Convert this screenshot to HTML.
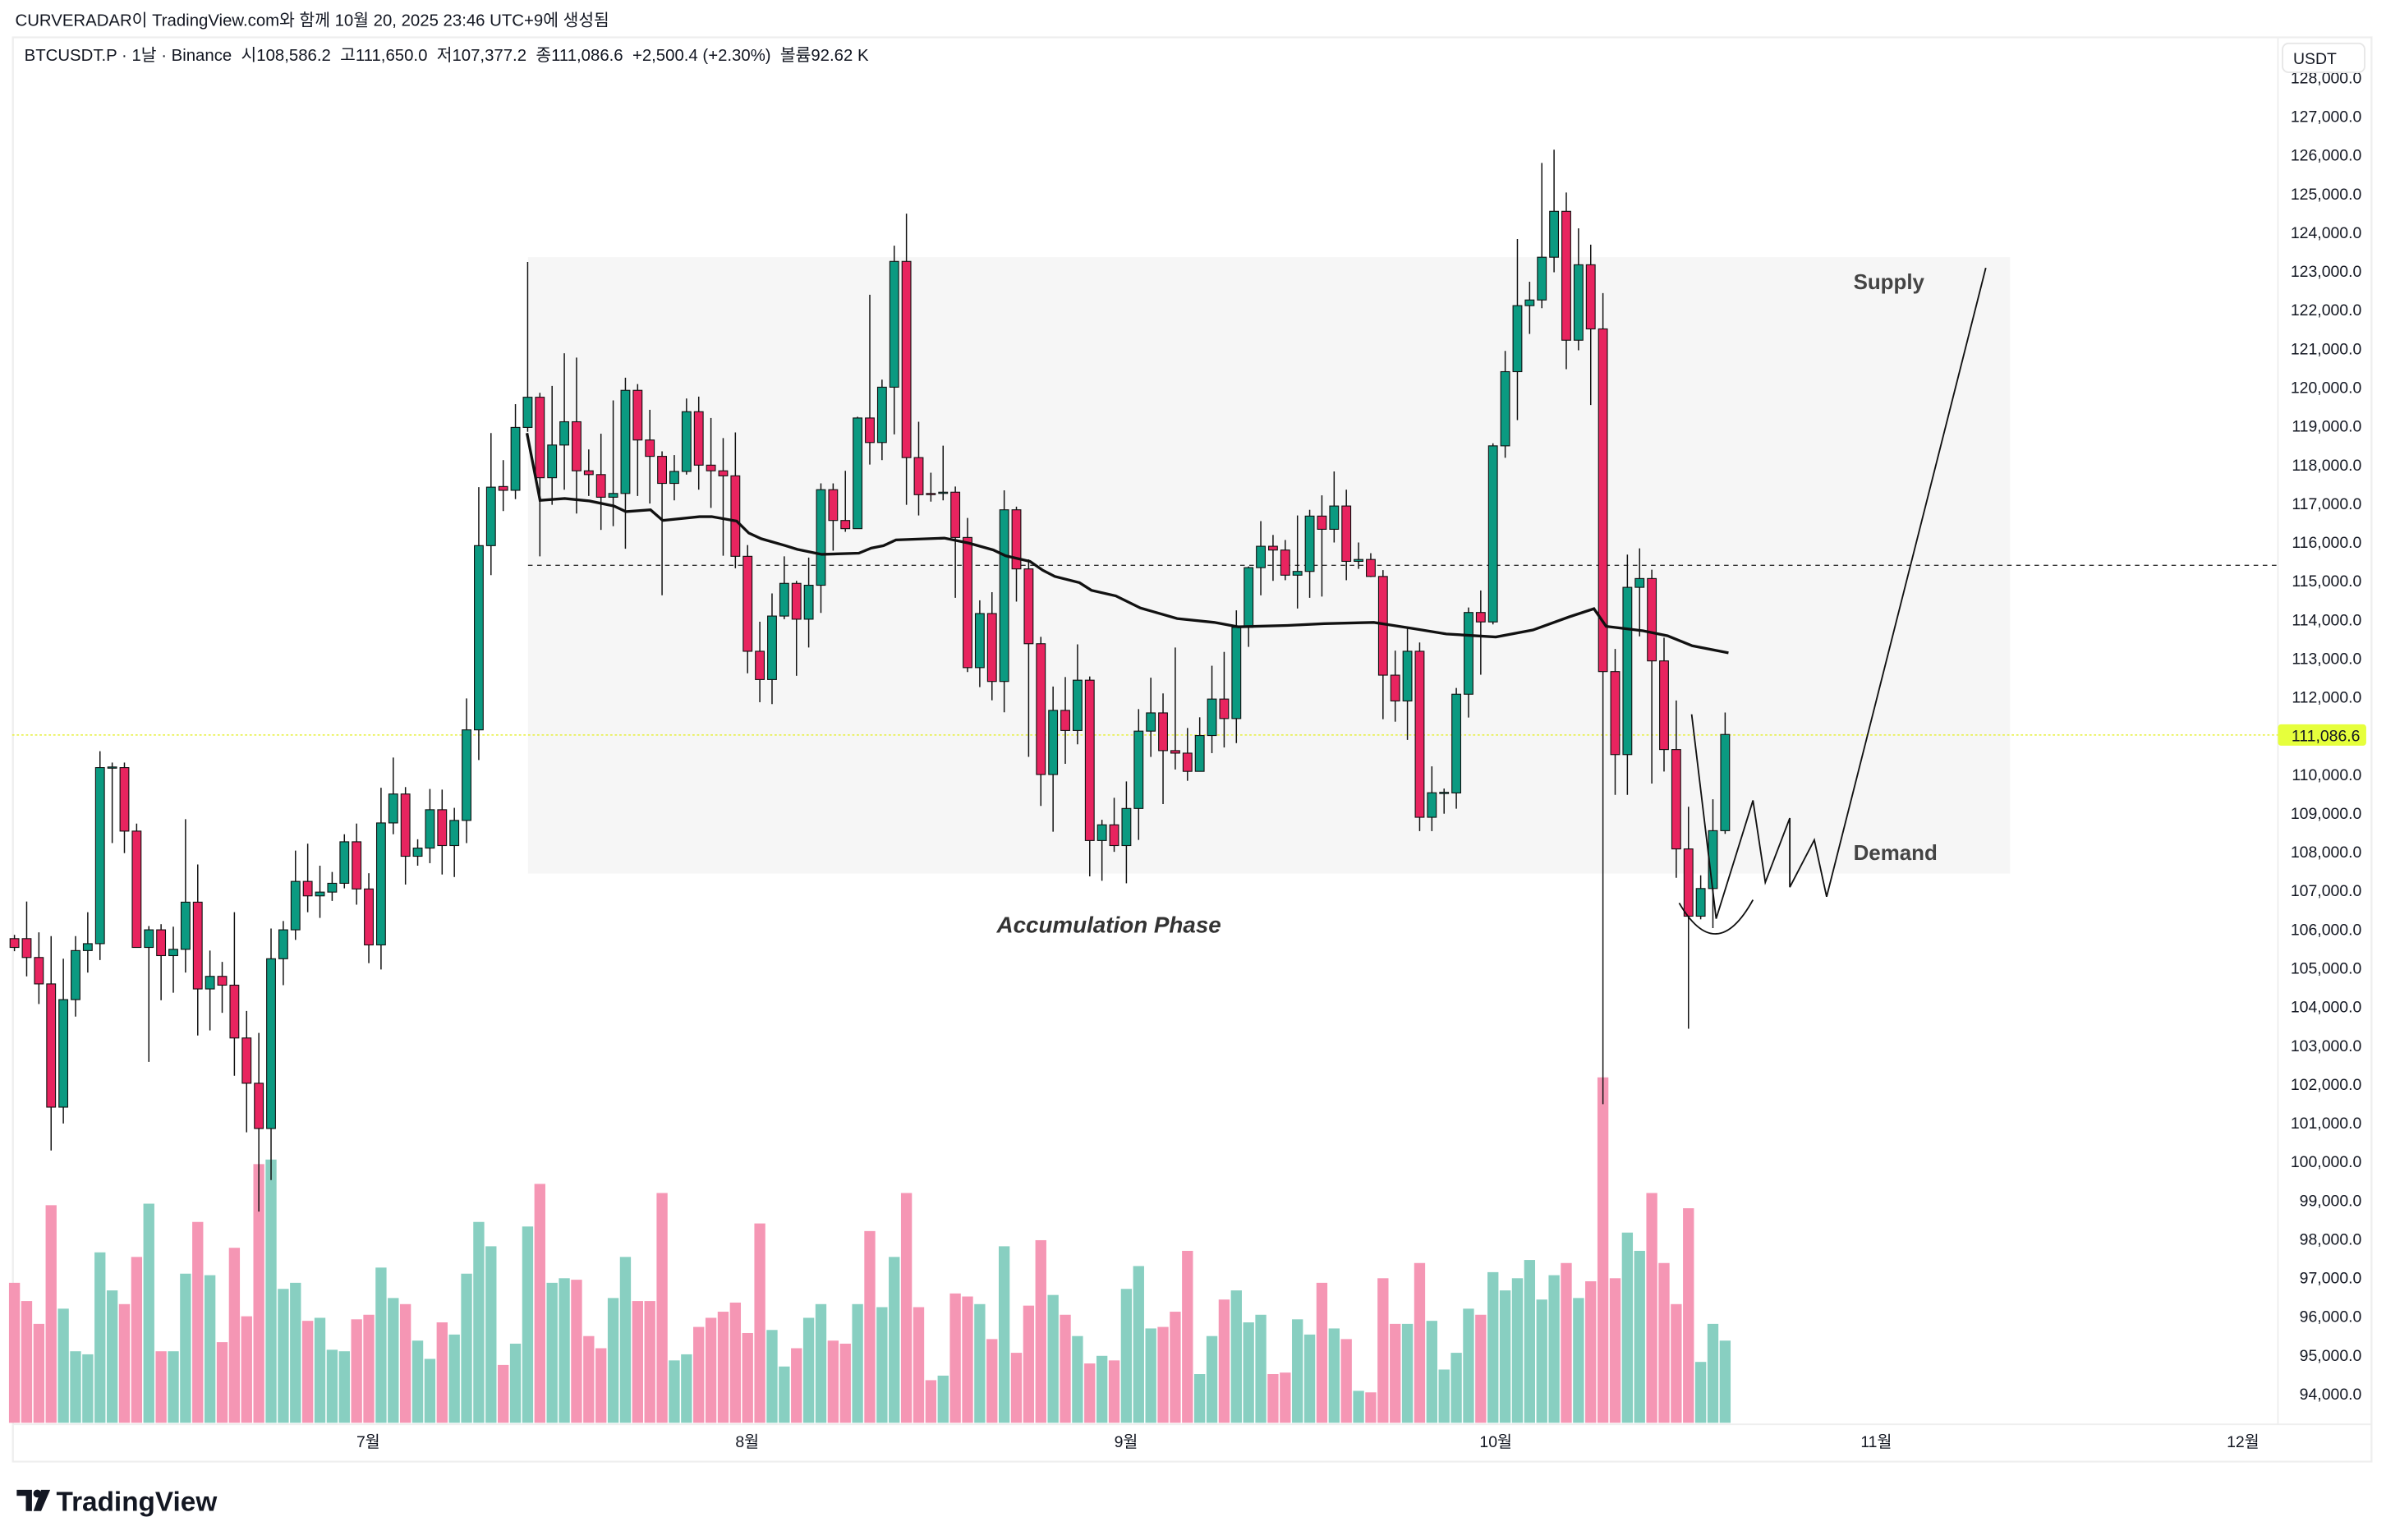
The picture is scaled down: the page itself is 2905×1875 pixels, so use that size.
<!DOCTYPE html>
<html><head><meta charset="utf-8"><style>
html,body{margin:0;padding:0;background:#fff;}
svg{display:block;}
text{font-family:"Liberation Sans","Noto Sans CJK KR",sans-serif;}
</style></head><body>
<svg id="s" width="2905" height="1875" viewBox="0 0 1568 1012" xmlns="http://www.w3.org/2000/svg">
<rect x="0" y="0" width="1568" height="1012" fill="#fff"/>
<text x="10" y="17" font-size="11" fill="#131722">CURVERADAR이 TradingView.com와 함께 10월 20, 2025 23:46 UTC+9에 생성됨</text>
<rect x="8.5" y="24.5" width="1550" height="936" fill="none" stroke="#eeeeee" stroke-width="1.2"/>
<line x1="1497" y1="24" x2="1497" y2="936" stroke="#eeeeee" stroke-width="1"/>
<line x1="8" y1="936" x2="1559" y2="936" stroke="#eeeeee" stroke-width="1"/>
<rect x="347" y="169" width="974" height="405" fill="#f6f6f6"/>
<text x="16" y="40" font-size="11" fill="#131722" xml:space="preserve">BTCUSDT.P · 1날 · Binance  시108,586.2  고111,650.0  저107,377.2  종111,086.6  +2,500.4 (+2.30%)  볼륨92.62 K</text>
<g id="vol"></g>
<line x1="347" y1="371.5" x2="1497" y2="371.5" stroke="#333" stroke-width="0.8" stroke-dasharray="3,3"/>
<line x1="8" y1="483" x2="1497" y2="483" stroke="#e6f03c" stroke-width="0.8" stroke-dasharray="1.5,1.5"/>
<g id="can"></g>
<polyline id="ma" fill="none" stroke="#111" stroke-width="1.8" points=""/>
<polyline fill="none" stroke="#111" stroke-width="1" points="1111.7,469.4 1127.8,603.7 1152,526 1160.1,579.8 1176.2,537.6 1176.2,583 1192.3,552 1200.4,589.3 1305,176"/>
<path d="M1103.5,593.4 Q1127.8,635 1152,591.3" fill="none" stroke="#111" stroke-width="1"/>
<text x="1218" y="190" font-size="14" font-weight="bold" fill="#444">Supply</text>
<text x="1218" y="565" font-size="14" font-weight="bold" fill="#444">Demand</text>
<text x="655" y="613" font-size="15" font-weight="bold" font-style="italic" fill="#333">Accumulation Phase</text>
<g id="ax"></g>
<rect x="1500" y="28.5" width="54" height="19" rx="4" fill="#fff" stroke="#e6e6e6"/>
<text x="1507" y="42" font-size="10.5" fill="#131722">USDT</text>
<rect x="1497" y="476" width="58" height="14" rx="2" fill="#e6ff3c"/>
<text x="1551" y="487" font-size="10.5" fill="#131722" text-anchor="end">111,086.6</text>
<g font-size="10.5" fill="#131722" text-anchor="middle">
<text x="242" y="951">7월</text><text x="491" y="951">8월</text><text x="740" y="951">9월</text><text x="983" y="951">10월</text><text x="1233" y="951">11월</text><text x="1474" y="951">12월</text>
</g>
<g fill="#131722">
<path d="M11,979 h10 v14 h-4 v-10 h-6z"/>
<circle cx="24.5" cy="981.5" r="2.6"/>
<path d="M27,979 h6 l-6,14 h-5z"/>
</g>
<text x="37" y="993" font-size="18" font-weight="bold" fill="#131722">TradingView</text>
</svg>
<script>
var A=[[1166,1180,1160,1186],[1166,1196,1107,1226],[1196,1238,1156,1270],[1238,1434,1162,1503],[1434,1263,1198,1460],[1263,1185,1162,1290],[1185,1174,1124,1220],[1174,894,868,1200],[894,893,886,1014],[894,995,886,1030],[995,1180,983,1180],[1180,1152,1146,1362],[1152,1193,1143,1264],[1193,1183,1147,1252],[1183,1108,976,1220],[1108,1246,1048,1320],[1246,1226,1185,1312],[1226,1240,1203,1284],[1240,1324,1124,1384],[1324,1396,1281,1474],[1396,1468,1316,1600],[1468,1198,1150,1550],[1198,1152,1138,1240],[1152,1075,1026,1168],[1075,1098,1015,1124],[1098,1092,1050,1133],[1092,1078,1060,1106],[1078,1012,1000,1086],[1012,1087,983,1112],[1087,1176,1062,1205],[1176,982,926,1215],[982,936,878,1000],[936,1035,925,1080],[1035,1022,1008,1050],[1022,961,928,1046],[961,1018,929,1064],[1018,978,958,1068],[978,834,784,1014],[834,541,448,882],[541,448,362,588],
[447,453,405,486],[453,353,316,467],[353,305,90,360],[305,433,298,558],[433,381,287,476],[381,344,235,452],[344,422,242,490],[422,428,388,462],[428,464,363,516],[464,458,310,510],[458,294,274,546],[294,373,284,462],[373,399,325,474],[399,442,391,620],[442,423,397,469],[423,328,307,428],[328,413,304,452],[413,422,338,481],[422,430,370,557],[430,558,361,577],[558,709,540,744],[709,754,662,790],[754,653,617,793],[653,601,558,658],[601,658,597,748],[658,604,560,703],[604,452,442,648],[452,501,442,549],[501,514,422,519],[514,338,336,514],[338,377,142,412],[377,289,277,405],[289,89,64,364],[89,401,13,476],[401,460,344,493],[458,459,425,471],[457,456,382,469],[456,528,447,624],[528,735,497,742],
[735,649,628,766],[649,757,615,787],[757,484,453,806],[484,578,479,630],[578,697,563,877],[697,905,686,955],[905,803,765,996],[803,835,750,888],[835,755,698,857],[755,1010,749,1067],[1010,985,977,1074],[985,1018,942,1028],[1018,959,916,1078],[959,836,801,1009],[836,807,751,877],[807,867,776,952],[867,871,703,897],[871,900,831,915],[900,843,814,900],[843,785,732,871],[785,816,710,862],[816,671,644,855],[671,576,574,702],[576,542,502,620],[542,548,524,597],[548,588,532,596],[588,582,493,641],[582,494,484,624],[494,515,461,622],[515,478,423,536],[478,566,452,596],[566,563,536,578],[563,590,553,591],[590,747,580,817],[747,788,708,821],[788,709,673,850],[709,973,695,995],[973,934,892,995]];
var B=[[1065,1064,1058,1098],[1065,908,898,1090],[908,778,770,945],[778,793,743,877],[793,513,509,797],[513,395,362,532],[395,290,184,472],[290,281,252,335],[281,213,63,294],[213,140,42,237],[140,345,110,391],[345,225,167,361],[225,327,193,448],[327,872,270,1560],[872,1004,836,1068],[1004,738,686,1068],[738,724,676,816],[724,855,710,1050],[855,996,818,1031],[996,1154,918,1200],[1154,1261,1087,1440],[1261,1217,1196,1266],[1217,1125,1075,1280],[1125,972,937,1130]];
var C=[];A.forEach(function(d){C.push(d.map(function(v){return 135+v/2.42;}));});
B.forEach(function(d){C.push(d.map(function(v){return 81+v/2.42;}));});
var V=[843,855,870,792,860,888,890,823,848,857,826,791,888,888,837,803,838,882,820,865,765,762,847,843,868,866,887,888,867,864,833,853,857,881,893,869,877,837,803,819,897,883,806,778,843,840,841,878,886,853,826,855,855,784,894,890,872,866,862,856,876,804,874,898,886,866,857,881,883,857,809,859,826,784,859,907,904,850,852,857,880,819,889,858,815,851,864,878,896,891,894,847,832,873,872,862,822,903,878,854,848,869,864,903,902,867,877,843,873,880,914,915,840,870,870,830,868,900,889,860,864,836,848,840,828,854,838,830,853,842,708,840,810,822,784,830,857,794,895,870,881];
var ns="http://www.w3.org/2000/svg";
function el(t,a,p){var e=document.createElementNS(ns,t);for(var k in a)e.setAttribute(k,a[k]);p.appendChild(e);return e;}
var can=document.getElementById('can'),vol=document.getElementById('vol');
for(var i=0;i<C.length;i++){var d=C[i],x=9.5+i*8.03,up=d[1]<=d[0];
 el('line',{x1:x,y1:d[2],x2:x,y2:d[3],stroke:'#111','stroke-width':0.8},can);
 var t=Math.min(d[0],d[1]),h=Math.max(Math.abs(d[0]-d[1]),0.8);
 el('rect',{x:x-2.9,y:t,width:5.8,height:h,fill:up?'#0b9a81':'#e8245f',stroke:'#111','stroke-width':0.6},can);
 if(i<V.length)el('rect',{x:x-3.6,y:V[i],width:7.2,height:935-V[i],fill:up?'#88cfc1':'#f596b4'},vol);
}
var M="346.3,284.6 354.9,328.8 371.1,327.6 387.4,329.2 403.5,332.5 411.3,336.2 427.5,335 435.5,342 459.7,339.5 467.7,339.5 484.1,342.4 492.1,350.3 500.2,354 516.3,358.6 524,361 540,364.3 564.4,363.5 572.5,360.2 580.6,358.6 588.8,354.8 620.6,353.6 636.7,356.9 652.8,361.4 660.8,365.2 676.9,368.9 685.2,374.7 693.2,378.8 709.4,382.9 717.2,387.9 733.3,391.6 749.4,399.5 773.6,406.5 798,409 813.7,411.9 846,411 870.3,409.8 902.8,409 926.5,412.7 950.5,416.6 983,418.6 1007.4,414 1031.1,405.4 1047.5,400 1055.5,411.6 1079.7,414.5 1095.9,417.8 1112.1,424.4 1135.9,429";
document.getElementById('ma').setAttribute('points',M);
var ax=document.getElementById('ax');
for(var p=94;p<=128;p++){var y=916-(p-94)*25.44;if(y<50)continue;
 var tx=el('text',{x:1552,y:y+3.7,'font-size':10.5,fill:'#131722','text-anchor':'end'},ax);
 tx.textContent=p+',000.0';
}
</script>
</body></html>
